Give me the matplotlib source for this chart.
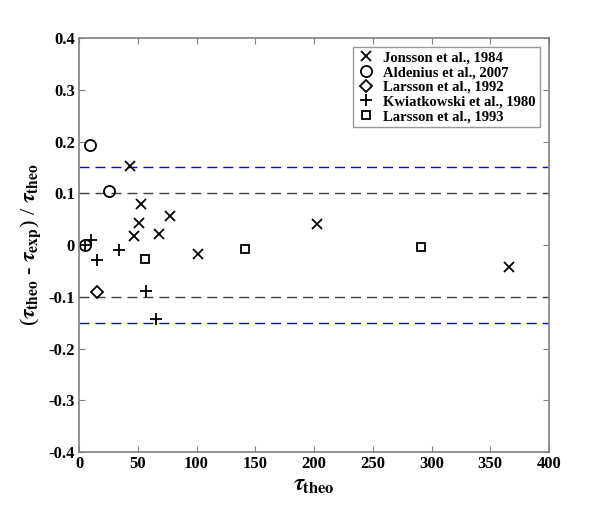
import matplotlib
matplotlib.use("Agg")
import matplotlib.pyplot as plt

# values
jonsson_x = [43.4, 52.8, 51.3, 46.8, 68.1, 77.4, 101.5, 202.8, 366.2]
jonsson_y = [0.152, 0.079, 0.042, 0.018, 0.021, 0.056, -0.017, 0.040, -0.043]

aldenius_x = [9.4, 25.8, 5.0]
aldenius_y = [0.194, 0.105, 0.0]

larsson92_x = [15.0]
larsson92_y = [-0.090]

kwiat_x = [5.0, 10.5, 15.6, 34.3, 57.0, 65.3]
kwiat_y = [0.0, 0.010, -0.029, -0.010, -0.088, -0.142]

larsson93_x = [56.2, 141.5, 291.3]
larsson93_y = [-0.027, -0.008, -0.003]

plt.rcParams['font.family'] = ['Liberation Serif', 'DejaVu Serif']
plt.rcParams['font.weight'] = 'bold'
plt.rcParams['mathtext.fontset'] = 'stix'

fig = plt.figure(figsize=(6.08, 5.08), dpi=100)
ax = fig.add_axes([0.130, 0.110, 0.773, 0.815])

# tolerance bands
dash = (0, (7.2, 4.3))
ax.axhline(0.15, color='#0000ff', ls=dash, lw=1.0)
ax.axhline(-0.15, color='#0000ff', ls=dash, lw=1.0)
ax.axhline(0.1, color='#404040', ls=dash, lw=1.0)
ax.axhline(-0.1, color='#404040', ls=dash, lw=1.0)

ax.plot(jonsson_x, jonsson_y, 'x', color='k', ms=7, mew=1.3, label='Jonsson et al., 1984')
ax.plot(aldenius_x, aldenius_y, 'o', color='k', mfc='none', ms=8, mew=1.3, label='Aldenius et al., 2007')
ax.plot(larsson92_x, larsson92_y, 'D', color='k', mfc='none', ms=6.5, mew=1.3, label='Larsson et al., 1992')
ax.plot(kwiat_x, kwiat_y, '+', color='k', ms=9, mew=1.3, label='Kwiatkowski et al., 1980')
ax.plot(larsson93_x, larsson93_y, 's', color='k', mfc='none', ms=6, mew=1.3, label='Larsson et al., 1993')

ax.set_xlim(0, 400)
ax.set_ylim(-0.4, 0.4)
ax.set_xticks(range(0, 401, 50))
ax.set_yticks([-0.4, -0.3, -0.2, -0.1, 0, 0.1, 0.2, 0.3, 0.4])
ax.set_yticklabels(['-0.4', '-0.3', '-0.2', '-0.1', '0', '0.1', '0.2', '0.3', '0.4'])

for s in ax.spines.values():
    s.set_color('#808080')
    s.set_linewidth(1.2)
ax.tick_params(direction='in', length=4, color='#808080', top=True, right=True,
               labelsize=12, pad=3)
for lab in ax.get_xticklabels() + ax.get_yticklabels():
    lab.set_fontweight('bold')

ax.set_xlabel(r'$\tau_{\mathbf{theo}}$', fontsize=17, labelpad=2)
ax.set_ylabel(r'($\tau_{\mathbf{theo}}$ - $\tau_{\mathbf{exp}}$) / $\tau_{\mathbf{theo}}$',
              fontsize=16, labelpad=4)

leg = ax.legend(loc='upper right', fontsize=10.5, frameon=True, fancybox=False,
                handlelength=1.2, handletextpad=0.6, borderpad=0.3,
                labelspacing=0.1, borderaxespad=0.6)
leg.get_frame().set_edgecolor('#808080')
leg.get_frame().set_linewidth(1.0)
for t in leg.get_texts():
    t.set_fontweight('bold')

fig.savefig('out.png', dpi=100)
